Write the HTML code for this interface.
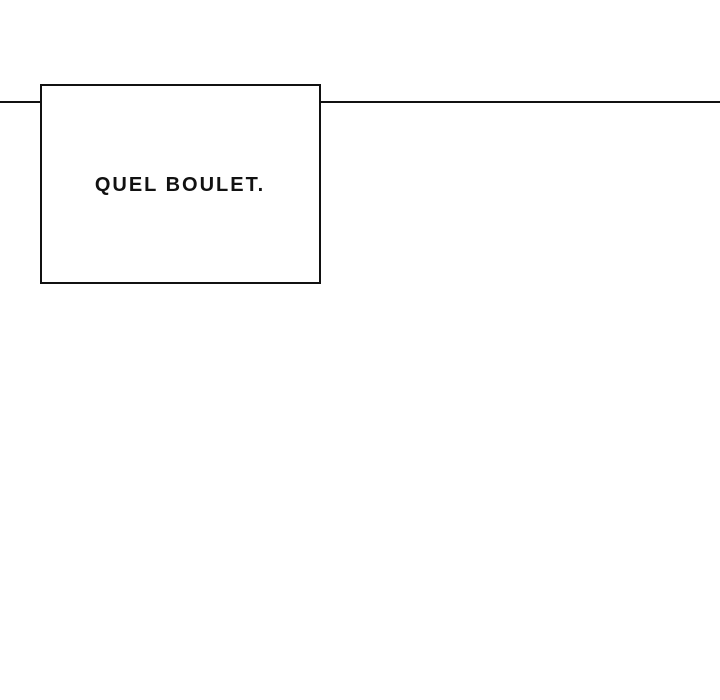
<!DOCTYPE html>
<html><head><style>
html,body{margin:0;padding:0;background:#fff;}
body{width:720px;height:700px;position:relative;overflow:hidden;}
.line{position:absolute;left:0;top:101px;width:720px;height:2px;background:#111;}
.box{position:absolute;left:40px;top:84px;width:277px;height:196px;border:2px solid #111;background:#fff;}
.t{position:absolute;left:0;top:174px;width:360px;text-align:center;font-family:"Liberation Sans",sans-serif;font-size:20px;font-weight:bold;letter-spacing:2px;color:#111;}
</style></head><body>
<div class="line"></div>
<div class="box"></div>
<div class="t">QUEL BOULET.</div>
</body></html>
